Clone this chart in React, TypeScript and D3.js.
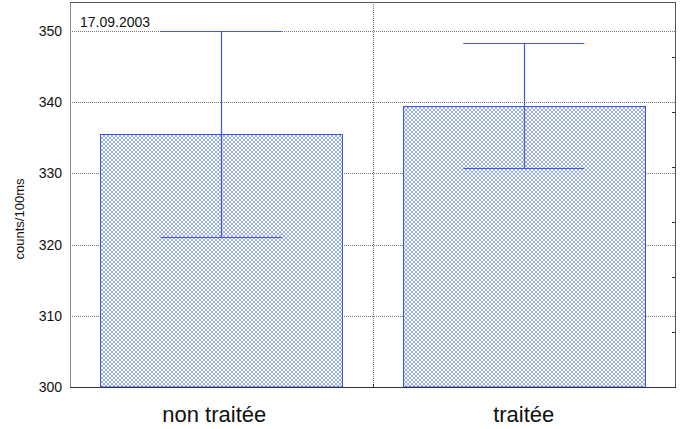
import React from "react";
import * as d3 from "d3";

const categories = ["non traitée", "traitée"];
const means = [335.5, 339.5];
const lows = [321.0, 330.7];
const highs = [350.0, 348.3];
const yTicks = [300, 310, 320, 330, 340, 350];
const dateLabel = "17.09.2003";
const yTitle = "counts/100ms";

const W = 690, H = 429;
const L = 70, R = 675, T = 2, B = 387;

export default function App() {
  const x = d3.scaleBand<string>().domain(categories).range([L, R]);
  const y = d3.scaleLinear().domain([300, 354.05]).range([B, T]);
  const yRight = d3.scaleLinear().domain([0, 7]).range([B, T]);
  const bw = x.bandwidth();
  const barW = bw * 0.8;
  const capW = bw * 0.4;
  const font = "'Liberation Sans', Arial, sans-serif";
  return (
    <svg width={W} height={H} style={{ position: "absolute", left: 0, top: 0, background: "#fff" }}>
      <defs>
        <pattern id="hatch" width="4" height="4" patternUnits="userSpaceOnUse">
          <rect width="4" height="4" fill="#fff" />
          <path d="M0,4 L4,0 M-1,1 L1,-1 M3,5 L5,3" stroke="#6a88f2" strokeWidth="0.7" />
          <path d="M0,0 L4,4 M-1,3 L1,5 M3,-1 L5,1" stroke="#6a88f2" strokeWidth="0.7" />
        </pattern>
      </defs>
      {/* grid */}
      {yTicks.filter(t => t > 300).map(t => (
        <line key={t} x1={L} x2={R} y1={Math.round(y(t)) + 0.5} y2={Math.round(y(t)) + 0.5}
          stroke="#777" strokeDasharray="1,1" />
      ))}
      {categories.slice(1).map(c => (
        <g key={c}>
          <line x1={Math.round(x(c)!) + 0.5} x2={Math.round(x(c)!) + 0.5} y1={T} y2={B}
            stroke="#777" strokeDasharray="1,1" />
          <line x1={Math.round(x(c)!) + 0.5} x2={Math.round(x(c)!) + 0.5} y1={B - 3} y2={B}
            stroke="#333" />
        </g>
      ))}
      {/* bars */}
      {categories.map((c, i) => {
        const cx = x(c)! + bw / 2;
        const top = y(means[i]);
        return (
          <g key={c}>
            <rect x={Math.round(cx - barW / 2) + 0.5} y={Math.round(top) + 0.5}
              width={Math.round(barW)} height={B - Math.round(top) - 0.5}
              fill="url(#hatch)" stroke="#3355dd" strokeWidth={1} />
            <line x1={Math.round(cx) + 0.5} x2={Math.round(cx) + 0.5} y1={y(highs[i])} y2={y(lows[i])}
              stroke="#4455ee" strokeWidth={1.2} />
            <line x1={cx - capW / 2} x2={cx + capW / 2} y1={Math.round(y(highs[i])) + 0.5} y2={Math.round(y(highs[i])) + 0.5}
              stroke="#4455ee" strokeWidth={1.2} />
            <line x1={cx - capW / 2} x2={cx + capW / 2} y1={Math.round(y(lows[i])) + 0.5} y2={Math.round(y(lows[i])) + 0.5}
              stroke="#4455ee" strokeWidth={1.2} />
          </g>
        );
      })}
      {/* right ticks */}
      {yRight.ticks(7).map(t => (
        <line key={t} x1={R - 3} x2={R} y1={Math.round(yRight(t)) + 0.5} y2={Math.round(yRight(t)) + 0.5} stroke="#333" />
      ))}
      {/* frame */}
      <line x1={L + 0.5} x2={L + 0.5} y1={T} y2={B} stroke="#888" />
      <line x1={L} x2={R} y1={T + 0.5} y2={T + 0.5} stroke="#555" />
      <line x1={R + 0.5} x2={R + 0.5} y1={T} y2={B + 1} stroke="#555" />
      <line x1={L} x2={R + 1} y1={B + 0.5} y2={B + 0.5} stroke="#333" />
      {/* y tick labels */}
      {yTicks.map(t => (
        <text key={t} x={62} y={y(t)} dy="0.36em" textAnchor="end" fontFamily={font} fontSize={14} fill="#111">{t}</text>
      ))}
      <text transform={`translate(24,219) rotate(-90)`} textAnchor="middle" fontFamily={font} fontSize={13} fill="#111">{yTitle}</text>
      <text x={80} y={27} fontFamily={font} fontSize={14} fill="#111">{dateLabel}</text>
      {categories.map(c => (
        <text key={c} x={x(c)! + bw / 2 - (c === categories[0] ? 7 : 0)} y={422} textAnchor="middle" fontFamily={font} fontSize={22} fill="#111">{c}</text>
      ))}
    </svg>
  );
}
